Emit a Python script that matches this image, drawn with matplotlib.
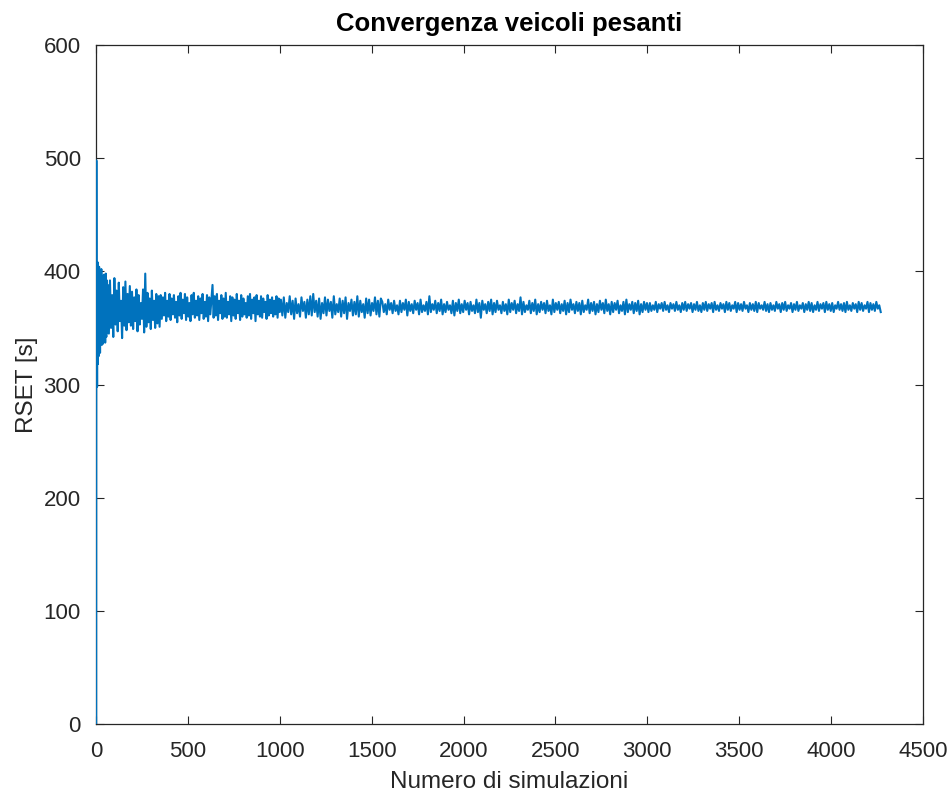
import numpy as np
import matplotlib
matplotlib.use("Agg")
import matplotlib.pyplot as plt

plt.rcParams['font.family'] = ['Liberation Sans', 'DejaVu Sans']

title = "Convergenza veicoli pesanti"
xlabel = "Numero di simulazioni"
ylabel = "RSET [s]"
xticks = [0, 500, 1000, 1500, 2000, 2500, 3000, 3500, 4000, 4500]
yticks = [0, 100, 200, 300, 400, 500, 600]

# simulation indices for each stretch of the series
sims_early = np.arange(1, 61, 1)
sims_mid = np.arange(64, 1001, 6)
sims_late = np.arange(1006, 4271, 8)

rset_early = [0, 498, 312, 405, 330, 298, 392, 345, 408, 318,
              380, 356, 401, 325, 388, 340, 404, 333, 372, 350,
              396, 328, 384, 346, 399, 338, 377, 352, 402, 341,
              390, 335, 370, 348, 395, 344, 383, 336, 391, 351,
              368, 339, 397, 347, 380, 343, 393, 354, 376, 337,
              389, 349, 398, 345, 374, 342, 386, 356, 392, 346]

rset_mid = [388, 345, 392, 350, 379, 342, 394, 353, 383, 347,
            390, 356, 374, 341, 386, 352, 391, 348, 380, 355, 387,
            352, 382, 349, 377, 356, 384, 347, 379, 353, 372,
            358, 384, 346, 398, 351, 381, 355, 376, 349, 383,
            357, 374, 350, 380, 354, 378, 351,
            379, 358, 377, 361, 381, 356, 374, 360, 380, 357,
            376, 362, 379, 359, 373, 355, 378, 361, 381, 358,
            375, 363, 380, 357, 377, 360, 372, 356, 379, 362,
            381, 359, 374, 361, 378, 357, 376, 363, 380, 358,
            373, 360, 379, 356, 377, 362, 375, 388, 359, 378,
            361, 380, 357, 374, 363, 379, 358, 376, 360, 381,
            359, 373, 362, 378, 356, 377, 361, 375, 358, 380,
            363, 374, 357, 379, 360, 376, 362, 372, 359, 378,
            361, 380, 358, 375, 363, 377, 356, 379, 362, 374,
            360, 378, 359, 376, 364, 373, 358, 379, 361, 375,
            363, 377, 360, 374, 362, 378, 359, 376, 364]

rset_late = [
    # 1006 - 1550
    375, 361, 377, 359, 372, 364, 378, 362, 374, 358,
    376, 363, 371, 360, 377, 365, 373, 359, 375, 362,
    378, 361, 380, 364, 374, 360, 376, 358, 372, 363,
    377, 361, 375, 365, 373, 359, 378, 362, 371, 364,
    376, 360, 374, 363, 377, 358, 372, 365, 375, 361,
    373, 362, 378, 360, 374, 364, 371, 359, 376, 363,
    375, 361, 372, 365, 377, 362, 374, 360, 376,
    # 1558 - 3006
    373, 364, 371, 362, 375, 366, 372, 363, 374, 365,
    370, 362, 374, 364, 372, 366, 375, 361, 373, 365,
    371, 363, 374, 366, 372, 362, 375, 364, 370, 365,
    373, 362, 378, 364, 371, 366, 374, 363, 372, 365,
    375, 362, 371, 364, 373, 366, 370, 363, 374, 361,
    372, 365, 375, 363, 371, 364, 374, 366, 372, 362,
    373, 365, 370, 363, 375, 364, 372, 359, 374, 366,
    371, 363, 373, 365, 375, 362, 372, 364, 374, 366,
    370, 363, 373, 365, 371, 362, 375, 364, 372, 366,
    374, 363, 371, 365, 377, 362, 373, 364, 370, 366,
    374, 363, 372, 365, 375, 362, 371, 364, 373, 366,
    372, 363, 374, 365, 370, 362, 375, 364, 372, 366,
    373, 363, 371, 365, 374, 362, 372, 364, 375, 366,
    371, 363, 373, 365, 372, 362, 374, 364, 370, 366,
    375, 363, 372, 365, 373, 362, 371, 364, 374, 366,
    372, 363, 375, 365, 371, 362, 373, 364, 372, 366,
    374, 363, 370, 365, 373, 362, 375, 364, 371, 366,
    373, 363, 372, 365, 374, 362, 371, 364, 373, 366,
    372, 364,
    # 3014 - 4270
    372, 365, 370, 366, 373, 364, 371, 367, 372, 365,
    373, 366, 370, 364, 372, 367, 371, 365, 373, 366,
    370, 364, 372, 366, 373, 365, 371, 367, 372, 364,
    371, 366, 373, 365, 370, 364, 372, 366, 373, 365,
    371, 367, 372, 364, 373, 366, 370, 365, 372, 367,
    371, 364, 373, 366, 372, 365, 370, 367, 373, 364,
    372, 366, 371, 365, 373, 367, 370, 364, 372, 366,
    371, 365, 373, 364, 372, 367, 370, 366, 373, 365,
    371, 364, 372, 366, 370, 365, 373, 367, 371, 364,
    372, 366, 373, 365, 370, 367, 372, 364, 371, 366,
    373, 365, 370, 367, 372, 364, 371, 366, 373, 365,
    372, 364, 370, 366, 373, 365, 371, 367, 372, 364,
    373, 366, 371, 365, 372, 364, 370, 367, 373, 366,
    371, 365, 372, 364, 373, 366, 370, 365, 372, 367,
    371, 364, 373, 366, 372, 365, 370, 367, 373, 364,
    372, 366, 371, 365, 373, 367, 370, 364]

sims = np.concatenate([sims_early, sims_mid, sims_late])
rset = np.concatenate([rset_early, rset_mid, rset_late])

fig = plt.figure(figsize=(9.52, 7.96), dpi=100)
ax = fig.add_axes([96/952, 1-724/796, (923-96)/952, (724-45)/796])

ax.plot(sims, rset, color='#0072BD', lw=1.5, zorder=3)

axc = '#262626'
ax.set_xlim(0, 4500)
ax.set_ylim(0, 600)
ax.set_xticks(xticks)
ax.set_yticks(yticks)
ax.tick_params(direction='in', length=6, width=0.8, colors=axc, labelsize=16,
               top=True, right=True, labeltop=False, labelright=False)
ax.tick_params(axis='x', pad=12)
ax.tick_params(axis='y', pad=11)
for s in ax.spines.values():
    s.set_color(axc)
    s.set_linewidth(0.9)
ax.set_title(title, fontsize=18.5, fontweight='bold', color='black', pad=10)
ax.set_xlabel(xlabel, fontsize=17.5, color=axc, labelpad=7)
ax.set_ylabel(ylabel, fontsize=17.5, color=axc, labelpad=4)

fig.savefig("out.png", dpi=100, facecolor='white')
